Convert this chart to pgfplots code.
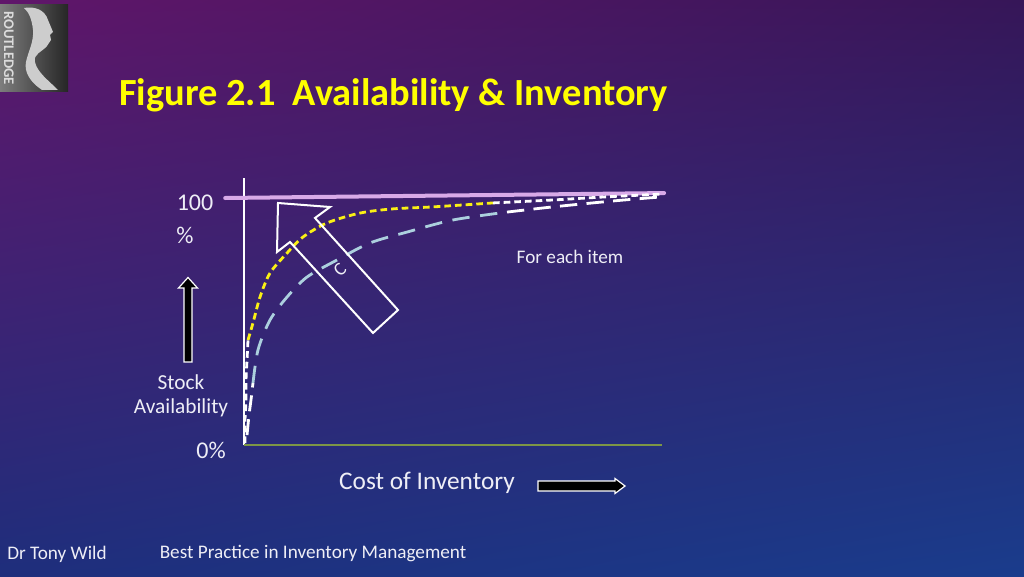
\documentclass[border=0pt]{standalone}
\usepackage{pgfplots}
\pgfplotsset{compat=1.18}
\usetikzlibrary{shadings}
\usepackage{fontspec}
\setmainfont{Carlito}
\definecolor{ttl}{RGB}{255,255,0}
\definecolor{txt}{RGB}{238,238,246}
\definecolor{lilac}{RGB}{216,170,232}
\definecolor{ylw}{RGB}{250,240,20}
\definecolor{lblue}{RGB}{172,208,222}
\definecolor{grn}{RGB}{125,150,70}
\definecolor{bgUL}{RGB}{96,22,106}
\definecolor{bgUR}{RGB}{54,22,88}
\definecolor{bgLL}{RGB}{30,46,124}
\definecolor{bgLR}{RGB}{26,60,140}
\definecolor{logoL}{RGB}{125,125,125}
\definecolor{logoR}{RGB}{38,38,38}
\definecolor{logoF}{RGB}{205,205,205}
\definecolor{logoT}{RGB}{220,220,220}
\newcommand{\fs}[1]{\fontsize{#1pt}{#1pt}\selectfont}
\begin{document}
\begin{tikzpicture}[x=0.75pt,y=0.75pt]
% background
\shade[upper left=bgUL, upper right=bgUR, lower left=bgLL, lower right=bgLR] (0,0) rectangle (1024,576);
\path[use as bounding box] (0,0) rectangle (1024,576);

\begin{axis}[hide axis, clip=false, scale only axis,
  width=313.5pt, height=185.25pt, at={(183pt,98.25pt)}, anchor=south west,
  xmin=0, xmax=100, ymin=0, ymax=100]
% axes lines
\addplot[white, line width=0.8pt] coordinates {(0,0) (0,108)};
\addplot[grn, line width=1pt] coordinates {(0,0) (100,0)};
\addplot[lilac, line width=3pt, line cap=round] coordinates {(-4.5,100) (100.5,102)};
% short-dash curve
\addplot[white, line width=2.1pt, dash pattern=on 5pt off 3pt, smooth] coordinates {
 (0.24,0.8) (0.24,10.1) (0.48,18.2) (0.48,26.3) (0.72,34.4) (0.96,42.5)};
\addplot[ylw, line width=2.1pt, dash pattern=on 5pt off 3pt, smooth] coordinates {
 (0.96,42.5) (2.15,49.4) (3.83,59.9) (6.22,69.6) (10.29,77.7) (14.11,84.2)
 (19.85,89.9) (27.75,93.9) (35.64,95.6) (45.21,96.4) (59.56,98.0)};
\addplot[white, line width=2.1pt, dash pattern=on 5pt off 3pt, smooth] coordinates {
 (59.56,98.0) (73.9,99.2) (85.9,100.4) (100.2,101.6)};
% long-dash curve
\addplot[white, line width=2.1pt, dash pattern=on 12pt off 6pt, smooth] coordinates {
 (0.72,4.0) (1.2,12.1) (1.67,18.2) (2.15,25.1)};
\addplot[lblue, line width=2.1pt, dash pattern=on 13pt off 8pt, smooth] coordinates {
 (2.15,25.1) (3.35,38.5) (6.22,50.6) (10.29,59.9) (15.07,68.0) (22.25,74.9)
 (30.14,81.8) (38.99,86.2) (49.99,91.1) (62.91,94.3)};
\addplot[white, line width=2.1pt, dash pattern=on 13pt off 7pt, smooth] coordinates {
 (62.91,94.3) (73.9,96.4) (88.3,98.8) (99.5,100.4)};
\end{axis}

\begin{scope}[shift={(0,576)}, yscale=-1]
% logo
\shade[left color=logoL, right color=logoR] (0,5) rectangle (68,92);
\fill[logoF] (24,8) .. controls (35,6) and (45,10) .. (48,20)
  -- (53,32) -- (50,35) -- (51,40) -- (47,46) .. controls (42,52) and (33,54) .. (35,62)
  .. controls (37,72) and (48,80) .. (58,90) -- (42,90) .. controls (30,82) and (24,72) .. (26,62)
  .. controls (28,52) and (34,42) .. (33,30) .. controls (32,20) and (29,12) .. (24,8) -- cycle;
\node[rotate=-90, text=logoT, font=\fs{11}\bfseries, inner sep=0] at (9,48) {ROUTLEDGE};
% title
\node[anchor=west, text=ttl, font=\fs{28.8}\bfseries, inner sep=0] at (119,95) {Figure 2.1\ \ Availability \& Inventory};
% big hollow arrow
\draw[white, line width=1.5pt, line join=miter] (278,203) -- (330,207) -- (315,218) -- (398,310) -- (373,333) -- (290,242) -- (277,252) -- cycle;
\node[rotate=45, text=txt, font=\fs{14}, inner sep=0] at (340,270) {C};
% up arrow
\draw[white, fill=black, line width=0.9pt] (184,362) -- (184,288) -- (178.5,288) -- (188,277.5) -- (197.5,288) -- (192,288) -- (192,362) -- cycle;
% right arrow
\draw[white, fill=black, line width=0.9pt] (538,481) -- (615,481) -- (615,478.5) -- (625,486) -- (615,493.5) -- (615,491) -- (538,491) -- cycle;
% texts
\node[text=txt, font=\fs{18}, inner sep=0] at (195,203) {100};
\node[text=txt, font=\fs{18}, inner sep=0] at (185,235) {\%};
\node[text=txt, font=\fs{18}, inner sep=0] at (211,450) {0\%};
\node[text=txt, font=\fs{16}, inner sep=0] at (181,382) {Stock};
\node[text=txt, font=\fs{16}, inner sep=0] at (181,408) {Availability};
\node[text=txt, font=\fs{14.4}, inner sep=0] at (570,257) {For each item};
\node[text=txt, font=\fs{19}, inner sep=0] at (427,483) {Cost of Inventory};
\node[text=txt, font=\fs{14.4}, inner sep=0] at (57,554) {Dr Tony Wild};
\node[text=txt, font=\fs{14.4}, inner sep=0] at (313,554) {Best Practice in Inventory Management};
\end{scope}
\end{tikzpicture}
\end{document}
